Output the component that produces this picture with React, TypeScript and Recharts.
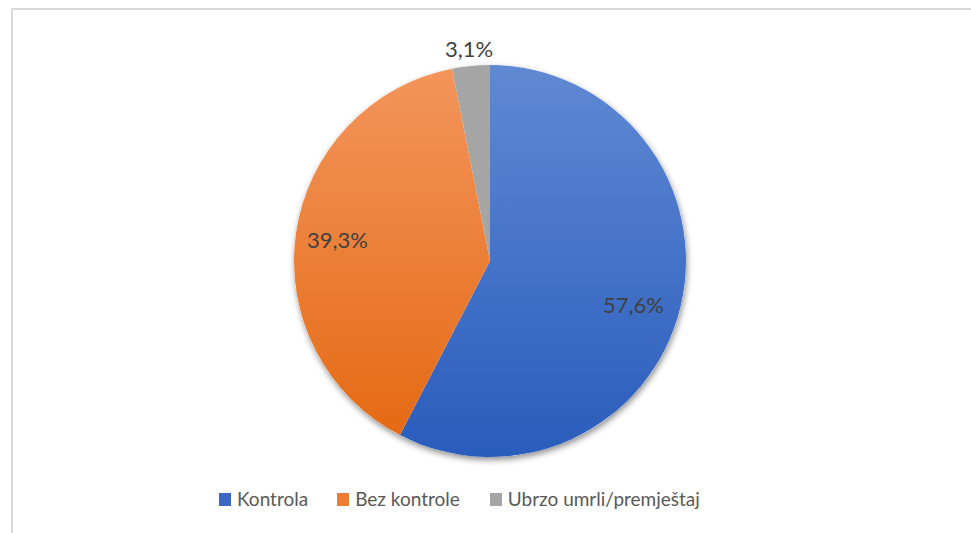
import React from "react";
import { PieChart, Pie, Cell } from "recharts";

const categories = ["Kontrola", "Bez kontrole", "Ubrzo umrli/premještaj"];
const values = [57.6, 39.3, 3.1];
const labels = ["57,6%", "39,3%", "3,1%"];

const gradTop = ["#5f89d3", "#f3955c", "#a5a5a5"];
const gradBottom = ["#2a5cbc", "#e56a14", "#a5a5a5"];
const legendColors = ["#3a68c4", "#ee7c34", "#a5a5a5"];

// label placement (relative to mid angle)
const labelRadius = [150, 154, 214];
const labelAngleShift = [-3.3, 0, 0];

const data = categories.map((name, i) => ({ name, value: values[i] }));

const RAD = Math.PI / 180;

const renderLabel = (props: any) => {
  const { cx, cy, midAngle, index } = props;
  const a = (midAngle + labelAngleShift[index]) * RAD;
  const r = labelRadius[index];
  const x = cx + r * Math.cos(a);
  const y = cy - r * Math.sin(a);
  return (
    <text
      x={x}
      y={y}
      textAnchor="middle"
      dominantBaseline="central"
      fill="#404040"
      fontSize={22}
      fontFamily="Lato, 'Open Sans', sans-serif"
    >
      {labels[index]}
    </text>
  );
};

const legendGaps = [29, 30, 0];

export default function App() {
  return (
    <div
      style={{
        position: "fixed",
        left: 0,
        top: 0,
        width: 971,
        height: 533,
        overflow: "hidden",
        background: "#ffffff",
      }}
    >
      <div
        style={{
          position: "absolute",
          left: 11,
          top: 8,
          width: 1100,
          height: 700,
          borderTop: "2px solid #d9d9d9",
          borderLeft: "2px solid #d9d9d9",
          boxSizing: "border-box",
        }}
      />
      <div style={{ position: "absolute", left: 0, top: 0 }}>
        <PieChart width={971} height={533} margin={{ top: 0, right: 0, bottom: 0, left: 0 }}>
          <defs>
            {categories.map((c, i) => (
              <linearGradient key={c} id={`g${i}`} x1="0" y1="0" x2="0" y2="1">
                <stop offset="0%" stopColor={gradTop[i]} />
                <stop offset="100%" stopColor={gradBottom[i]} />
              </linearGradient>
            ))}
            <filter id="shadow" x="-20%" y="-20%" width="140%" height="140%">
              <feDropShadow dx="1" dy="3" stdDeviation="3" floodColor="#000" floodOpacity="0.45" />
            </filter>
          </defs>
          <Pie
            data={[{ name: "bg", value: 1 }]}
            dataKey="value"
            cx={490}
            cy={261}
            outerRadius={196}
            startAngle={90}
            endAngle={-270}
            stroke="none"
            isAnimationActive={false}
            legendType="none"
          >
            <Cell fill="#ffffff" filter="url(#shadow)" />
          </Pie>
          <Pie
            data={data}
            dataKey="value"
            nameKey="name"
            cx={490}
            cy={261}
            outerRadius={196}
            startAngle={90}
            endAngle={-270}
            stroke="none"
            isAnimationActive={false}
            labelLine={false}
            label={renderLabel}
          >
            {data.map((d, i) => (
              <Cell key={d.name} fill={`url(#g${i})`} />
            ))}
          </Pie>
        </PieChart>
      </div>
      <div
        style={{
          position: "absolute",
          left: 219,
          top: 488,
          height: 22,
          display: "flex",
          alignItems: "center",
          fontFamily: "Lato, 'Open Sans', sans-serif",
          fontSize: 19,
          lineHeight: "22px",
          color: "#595959",
          whiteSpace: "nowrap",
        }}
      >
        {categories.map((c, i) => (
          <div key={c} style={{ display: "flex", alignItems: "center", marginRight: legendGaps[i] }}>
            <div style={{ width: 12, height: 13, background: legendColors[i], marginRight: 6 }} />
            <span>{c}</span>
          </div>
        ))}
      </div>
    </div>
  );
}
